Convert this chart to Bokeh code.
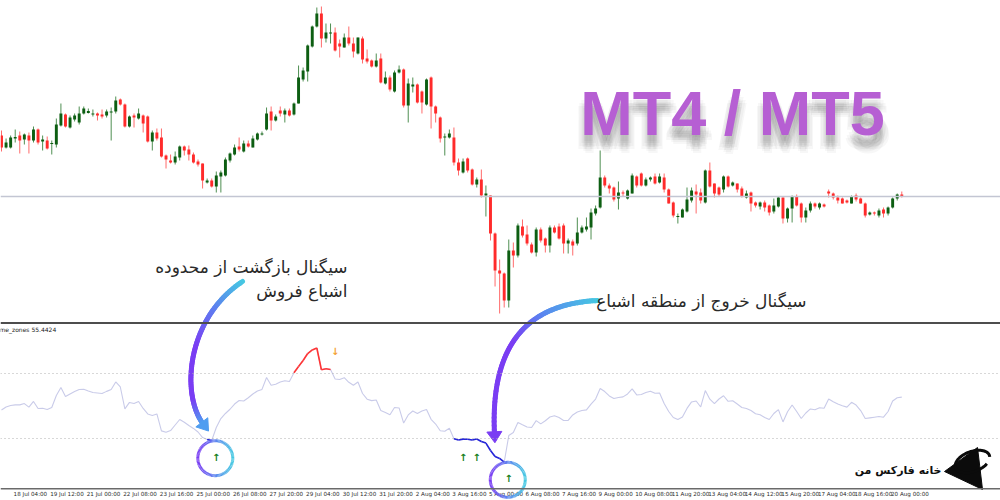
import numpy as np
from bokeh.plotting import figure
from bokeh.models import Range1d, ColumnDataSource, Span
from bokeh.core.properties import value
from bokeh.embed import file_html
from bokeh.resources import INLINE

# ------------------------------------------------------------------ data
TIME_LABELS = ["18 Jul 04:00", "19 Jul 12:00", "21 Jul 00:00", "22 Jul 08:00", "23 Jul 16:00",
               "25 Jul 00:00", "26 Jul 08:00", "27 Jul 20:00", "29 Jul 04:00", "30 Jul 12:00",
               "31 Jul 20:00", "2 Aug 04:00", "3 Aug 16:00", "5 Aug 00:00", "6 Aug 08:00",
               "7 Aug 16:00", "9 Aug 00:00", "10 Aug 08:00", "11 Aug 20:00", "13 Aug 04:00",
               "14 Aug 12:00", "15 Aug 20:00", "17 Aug 04:00", "18 Aug 16:00", "20 Aug 00:00"]
LABEL_BARS = [3, 11, 19, 27, 35, 43, 51, 59, 67, 75, 83, 91, 99, 107, 115, 123, 131, 139,
              147, 155, 163, 171, 179, 187, 195]

OPEN = [187, 175, 175, 184, 187, 183, 187, 182, 193, 181, 182, 178.5, 178, 197, 208, 195, 203, 200, 209, 209.5,
        208, 209, 208, 207, 210, 211, 223, 218, 196, 207, 204, 207, 206, 181, 190, 185, 167, 162, 160, 165,
        176, 173, 168, 161, 159, 140, 142, 136, 146, 147, 162, 168, 176, 171, 179, 175, 183, 188, 193, 211,
        202, 212, 208, 212, 208, 219, 243, 251, 276, 296, 309, 284, 289, 290, 279, 275, 285, 279, 269, 284,
        264, 262, 256, 264, 239, 245, 231, 250, 253, 217, 236, 238, 231, 218, 245, 216, 205, 185, 185, 185,
        160, 150, 164, 153, 138, 143, 127, 127, 89, 52, 49, 22, 72, 67, 96, 88, 78, 70, 93, 84,
        77, 95, 96, 97, 79, 81, 79, 90, 93, 95, 109, 115, 145, 137, 135, 124, 130, 124, 129, 146,
        149, 137, 143, 146, 140, 145, 133, 120, 105.5, 105, 111, 122, 131, 130, 120, 152, 139, 135, 133, 146,
        137, 139, 134, 125, 130, 120, 116, 120, 117, 111, 116, 125, 104, 114, 126, 119, 105, 112, 119, 115,
        118, 131, 129, 125, 124, 122, 119, 127, 124, 119, 108, 110, 107, 113, 109, 115, 124, 128]
HIGH = [192, 184, 187, 193, 191, 189, 190, 196, 194, 187, 186, 182, 204, 219, 209, 207, 209, 216, 216, 214,
        213, 210, 213, 213, 215, 226, 224, 219, 207, 209, 214, 208, 207, 192, 194, 194, 168, 168, 171, 177,
        177, 177, 170, 163, 159, 144, 144, 151, 152, 165, 170, 178, 185, 182, 182, 187, 190, 191, 215, 216,
        208, 216, 214, 214, 220, 257, 255, 278, 297, 315, 316, 299, 299, 295, 283, 289, 296, 285, 285, 286,
        273, 263, 269, 269, 251, 247, 252, 257, 254, 244, 245, 239, 232, 244, 246, 217, 206, 189, 193, 195,
        164, 164, 165, 154, 145, 153, 137, 127, 90, 63, 50, 83, 80, 99, 103, 97, 80, 95, 95, 85,
        97, 97, 99, 99, 84, 83, 105, 97, 105, 114, 117, 172, 147, 139, 136, 141, 132, 133, 149, 147,
        150, 145, 146, 149, 149, 149, 134, 121, 109, 114, 135, 135, 138, 134, 153, 160, 139, 136, 147, 147,
        141, 139, 136, 132, 131, 121, 121, 122, 118, 124, 126, 125, 115, 127, 128, 120, 115, 121, 120, 120,
        119, 133, 130, 127, 125, 123, 127, 129, 125, 120, 111, 111, 114, 115, 116, 125, 129, 131]
LOW = [171, 174, 174, 180, 169, 178, 169, 180, 178, 172, 173, 168, 175, 196, 195, 194, 201, 198, 208, 209,
       206, 202, 204, 205, 182, 209, 217, 195, 195, 195, 203, 190, 180, 172, 182, 165, 154, 159, 158, 162,
       167, 162, 159, 156, 134, 139, 135, 130, 130, 146, 160, 167, 171, 170, 175, 175, 182, 187, 192, 192,
       201, 206, 200, 206, 207, 219, 241, 241, 275, 295, 275, 280, 279, 271, 265, 275, 277, 265, 268, 259,
       259, 255, 255, 239, 238, 231, 230, 249, 215, 200, 230, 219, 209, 217, 194, 200, 180, 167, 184, 157,
       147, 149, 150, 137, 135, 125, 106, 82, 36, 9, 15, 15, 55, 65, 85, 77, 69, 66, 80, 70,
       70, 89, 83, 69, 69, 67, 77, 89, 91, 83, 107, 114, 135, 129, 121, 113, 126, 123, 129, 135,
       136, 136, 141, 138, 139, 130, 119, 105, 99, 105, 110, 120, 109, 119, 119, 135, 125, 126, 130, 135,
       136, 130, 125, 124, 111, 115, 113, 111, 107, 109, 115, 99, 100, 100, 116, 100, 100, 110, 114, 113,
       115, 125, 123, 119, 119, 119, 119, 121, 119, 105, 107, 107, 105, 105, 107, 114, 122, 125]
CLOSE = [175, 180, 185, 185.5, 182, 188, 182, 193, 180, 183, 174, 179.5, 198, 209, 196, 205, 207, 209, 214, 211.5,
         209, 207, 206, 211, 211, 222, 218, 196, 206, 205, 209, 199, 181, 190, 184, 166, 163, 160, 166, 176,
         172, 168, 160, 158, 142, 142, 136, 147, 150, 163, 169, 175, 173, 179, 176, 184, 189, 189, 209, 202,
         206, 209, 212, 207, 219, 245, 252, 277, 296, 309, 284, 290, 290, 272, 276, 285, 279, 271, 285, 263,
         261, 256, 262, 240, 245, 233, 250, 253, 217, 239, 238, 220, 220, 243, 216, 209, 184, 186, 189, 160,
         152, 161, 152, 138, 143, 127, 129, 89, 52, 49, 22, 72, 67, 97, 87, 79, 70, 93, 82, 77,
         95, 90, 84, 79, 82, 77, 90, 95, 96, 110, 114, 145, 137, 134, 123, 130, 129, 132, 147, 137,
         137, 143, 145, 139, 146, 133, 119, 107, 106.5, 113, 123, 132, 128, 122, 152, 136, 129, 128, 146, 136,
         140, 133, 126, 129, 119, 117, 120, 115, 110, 117, 125, 104, 114, 126, 117, 105, 112, 119, 116, 119,
         116, 129, 125, 122, 119, 120, 126, 123, 119, 107, 110, 109, 112, 109, 115, 124, 128, 126]

IND_NAME = "me_zones"
IND = [47.5, 49.4, 50.3, 50.7, 50.7, 51.5, 49.3, 52.8, 48.5, 48.6,
       47.8, 49.1, 56.5, 61.4, 55.8, 57.4, 58.9, 60.2, 60.3, 59.2,
       58.3, 58.0, 57.7, 59.0, 60.2, 64.8, 61.7, 48.2, 52.2, 51.5,
       52.8, 48.5, 45.1, 44.2, 45.1, 34.7, 33.8, 34.9, 38.3, 41.7,
       40.0, 38.0, 36.2, 34.0, 30.6, 29.4, 28.8, 36.8, 42.3, 45.4,
       48.0, 51.2, 53.4, 53.1, 55.1, 57.4, 59.2, 60.2, 67.5, 62.8,
       63.4, 64.8, 65.5, 65.1, 70.5, 74.3, 78.0, 82.3, 84.5, 85.7,
       72.3, 72.9, 72.5, 66.6, 66.3, 67.4, 64.6, 62.8, 64.8, 57.7,
       54.2, 53.3, 53.7, 47.2, 46.0, 44.6, 49.1, 48.8, 39.5, 44.5,
       46.9, 45.4, 46.9, 47.8, 41.8, 38.9, 34.8, 34.5, 36.3, 29.8,
       29.1, 29.6, 29.5, 29.1, 29.7, 28.2, 27.2, 22.6, 18.9, 17.7,
       15.4, 31.8, 33.7, 39.8, 38.4, 37.1, 36.8, 41.0, 39.0, 40.9,
       43.2, 44.0, 42.9, 41.1, 41.1, 44.5, 46.3, 47.2, 47.6, 51.2,
       54.3, 60.8, 58.9, 56.2, 54.6, 55.2, 55.6, 57.4, 60.5, 56.8,
       57.1, 58.3, 59.1, 57.8, 58.0, 51.5, 46.6, 42.9, 41.7, 43.2,
       48.5, 52.5, 53.1, 49.4, 59.5, 54.2, 51.5, 54.3, 56.3, 52.9,
       53.2, 51.2, 49.1, 48.5, 47.2, 45.2, 44.6, 42.9, 41.7, 45.4,
       47.8, 40.2, 46.5, 50.6, 46.6, 42.3, 45.7, 48.2, 47.7, 48.9,
       48.6, 54.3, 52.6, 51.2, 50.1, 49.3, 52.3, 50.6, 47.2, 42.3,
       42.7, 43.1, 43.5, 43.1, 46.6, 53.1, 55.1, 55.4424]
LEVEL_HIGH, LEVEL_LOW = 70, 30
PRICE_LEVEL = 126

BUY_BARS = [47, 101, 104, 111]
BUY_VALS = [18.5, 18.5, 18.5, 5.2]
SELL_BARS = [73]
SELL_VALS = [83.7]
CIRCLED = [0, 3]          # which buy signals are circled

TXT1 = ["سیگنال بازگشت از محدوده", "اشباع فروش"]
TXT2 = "سیگنال خروج از منطقه اشباع"
BRAND = "خانه فارکس من"
TITLE = "MT4 / MT5"

# ------------------------------------------------------------------ layout helpers
W, H = 1000, 500
X0, DX = 1.0, 4.57             # reference px of bar 0, px per bar
IND_Y0, IND_K = 486.75, 1.625  # indicator value -> reference px


def bx(x):
    return (np.asarray(x, dtype=float) - X0) / DX


def py(y):
    return 322.0 - np.asarray(y, dtype=float)


p = figure(width=W, height=H, x_range=Range1d(float(bx(0)), float(bx(1000))),
           y_range=Range1d(float(py(500)), float(py(0))),
           output_backend="svg", toolbar_location=None, min_border=0,
           x_axis_location=None, y_axis_location=None)
p.outline_line_color = None
p.grid.visible = False
p.background_fill_color = "white"
p.border_fill_color = "white"
p.extra_y_ranges = {"ind": Range1d((IND_Y0 - 500) / IND_K, IND_Y0 / IND_K)}

# ------------------------------------------------------------------ panels / lines
p.add_layout(Span(location=PRICE_LEVEL, dimension="width", line_color="#c3c6d3", line_width=1.3))
p.add_layout(Span(location=float(py(322.5)), dimension="width", line_color="#4d4d4d", line_width=2))
p.add_layout(Span(location=float(py(488.3)), dimension="width", line_color="#6a6a6a", line_width=1.5))
for lv in (LEVEL_HIGH, LEVEL_LOW):
    p.add_layout(Span(location=lv, dimension="width", y_range_name="ind",
                      line_color="#b0b0b0", line_width=1, line_dash="1 3"))

# ------------------------------------------------------------------ candles
o, h, l, c = (np.array(a, dtype=float) for a in (OPEN, HIGH, LOW, CLOSE))
idx = np.arange(len(o))
top = np.maximum(o, c)
bot = np.minimum(o, c)
small = (top - bot) < 1.0
mid = (top + bot) / 2
top = np.where(small, mid + 0.5, top)
bot = np.where(small, mid - 0.5, bot)
up = c >= o
for mask, body_col, wick_col in ((up, "#0d5e12", "#4f8f52"), (~up, "#ff2b2b", "#ff6b6b")):
    src = ColumnDataSource(dict(x=idx[mask], hi=h[mask], lo=l[mask], t=top[mask], b=bot[mask]))
    p.segment(x0="x", y0="hi", x1="x", y1="lo", line_color=wick_col, line_width=1, source=src)
    p.vbar(x="x", top="t", bottom="b", width=0.64, fill_color=body_col, line_color=None, source=src)

# ------------------------------------------------------------------ indicator
ind = np.array(IND)
p.line(idx, ind, line_color="#c9cbe9", line_width=1.1, y_range_name="ind")
seg_x, seg_y, seg_c = [], [], []
for i in range(len(ind) - 1):
    if ind[i] >= LEVEL_HIGH and ind[i + 1] >= LEVEL_HIGH:
        seg_x.append([i, i + 1]); seg_y.append([ind[i], ind[i + 1]]); seg_c.append("#ff3434")
    elif ind[i] <= LEVEL_LOW and ind[i + 1] <= LEVEL_LOW:
        seg_x.append([i, i + 1]); seg_y.append([ind[i], ind[i + 1]]); seg_c.append("#2424d8")
p.multi_line(xs="xs", ys="ys", line_color="c", line_width=1.6, y_range_name="ind",
             source=ColumnDataSource(dict(xs=seg_x, ys=seg_y, c=seg_c)))

p.text(x=BUY_BARS, y=BUY_VALS, text=["↑"] * len(BUY_BARS), y_range_name="ind",
       text_color="#16801b", text_font=value("DejaVu Sans"), text_font_style="bold",
       text_font_size="10px", text_align="center", text_baseline="middle")
p.text(x=SELL_BARS, y=SELL_VALS, text=["↓"] * len(SELL_BARS), y_range_name="ind",
       text_color="#f4a235", text_font=value("DejaVu Sans"), text_font_style="bold",
       text_font_size="10px", text_align="center", text_baseline="middle")

p.text(x=[float(bx(-1))], y=[float(py(328.5))],
       text=[f"{IND_NAME} {IND[-1]:.4f}"], text_color="#222222",
       text_font=value("DejaVu Sans"), text_font_size="6px", text_baseline="middle")

# time labels
p.text(x=np.array(LABEL_BARS) - 0.35, y=[float(py(493.5))] * len(LABEL_BARS), text=TIME_LABELS,
       text_color="#2a2a2a", text_font=value("DejaVu Sans"), text_font_size="5.6px",
       text_baseline="middle", text_align="left")

# ------------------------------------------------------------------ annotations


def rgb(hx):
    return np.array([int(hx[k:k + 2], 16) for k in (1, 3, 5)], dtype=float)


def grad(stops, t):
    for (t0, c0), (t1, c1) in zip(stops[:-1], stops[1:]):
        if t <= t1:
            f = 0 if t1 == t0 else (t - t0) / (t1 - t0)
            v = rgb(c0) * (1 - f) + rgb(c1) * f
            return "#%02x%02x%02x" % tuple(int(round(x)) for x in v)
    return stops[-1][1]


def bez(P, n=70):
    P = np.array(P, dtype=float)
    t = np.linspace(0, 1, n)[:, None]
    return ((1 - t) ** 3) * P[0] + 3 * ((1 - t) ** 2) * t * P[1] + 3 * (1 - t) * t * t * P[2] + t ** 3 * P[3]


def grad_path(pts, stops, width):
    xs, ys, cs = [], [], []
    n = len(pts)
    for k in range(n - 1):
        xs.append(list(bx([pts[k][0], pts[k + 1][0]])))
        ys.append(list(py([pts[k][1], pts[k + 1][1]])))
        cs.append(grad(stops, k / (n - 2)))
    p.multi_line(xs="xs", ys="ys", line_color="c", line_width=width, line_cap="round",
                 source=ColumnDataSource(dict(xs=xs, ys=ys, c=cs)))


def arrow(P, stops, width, head_col, head_len=11, head_w=7.5):
    pts = bez(P)
    grad_path(pts, stops, width)
    end = pts[-1]
    d = np.array(P[3], float) - np.array(P[2], float)
    d /= np.linalg.norm(d)
    q = np.array([-d[1], d[0]])
    tip = end + d * head_len * 0.75
    base = end - d * head_len * 0.25
    tri = [tip, base + q * head_w, base - q * head_w]
    p.patch(bx([t[0] for t in tri]), py([t[1] for t in tri]), fill_color=head_col, line_color=head_col)


CYAN, PURPLE, BLUE = "#46c8e2", "#7a3df3", "#4f9df0"
arrow([(242, 281), (186, 318), (180, 394), (203, 424)],
      [(0, CYAN), (0.22, "#5f7cf0"), (0.45, PURPLE), (0.8, PURPLE), (1, BLUE)], 5, BLUE)
arrow([(597, 300), (538, 303), (489, 332), (494, 434)],
      [(0, CYAN), (0.35, "#5a86ef"), (0.6, PURPLE), (1, PURPLE)], 5, PURPLE)

# circles around the highlighted buy signals
theta = np.linspace(0, 2 * np.pi, 91)
for j in CIRCLED:
    cx = X0 + DX * BUY_BARS[j] - 1.0
    cy = IND_Y0 - IND_K * BUY_VALS[j] + 1.0
    pts = np.column_stack([cx + 17.5 * np.cos(theta), cy + 17.5 * np.sin(theta)])
    xs, ys, cs = [], [], []
    for k in range(len(pts) - 1):
        xs.append(list(bx(pts[k:k + 2, 0])))
        ys.append(list(py(pts[k:k + 2, 1])))
        cs.append(grad([(0, PURPLE), (0.55, "#5a8cef"), (1, CYAN)], (1 + np.cos(theta[k])) / 2))
    p.multi_line(xs="xs", ys="ys", line_color="c", line_width=3,
                 source=ColumnDataSource(dict(xs=xs, ys=ys, c=cs)))

# Persian captions
p.text(x=[float(bx(347))] * 2, y=[float(py(266)), float(py(290))], text=TXT1,
       text_color="#2a2a2a", text_font=value("DejaVu Sans"), text_font_size="17px",
       text_align="right", text_baseline="middle")
p.text(x=[float(bx(806))], y=[float(py(300))], text=[TXT2],
       text_color="#2a2a2a", text_font=value("DejaVu Sans"), text_font_size="17px",
       text_align="right", text_baseline="middle")

# MT4 / MT5 title with a soft shadow
for dx_, dy_ in [(0, 6), (-3, 8), (3, 8), (0, 10), (-2, 12), (2, 12), (0, 14), (-5, 11), (5, 11),
                 (-1, 16), (1, 18), (-6, 14), (6, 14)]:
    p.text(x=[float(bx(732 + dx_))], y=[float(py(112 + dy_))], text=[TITLE], text_color="#4a4a4a",
           text_alpha=0.045, text_font=value("Liberation Sans"), text_font_style="bold",
           text_font_size="63px", text_align="center", text_baseline="alphabetic")
p.text(x=[float(bx(732))], y=[float(py(112))], text=[TITLE], text_color="#b65fd3",
       text_font=value("Liberation Sans"), text_font_style="bold",
       text_font_size="63px", text_align="center", text_baseline="alphabetic")

# brand logo
p.text(x=[float(bx(941))], y=[float(py(470))], text=[BRAND], text_color="#111111",
       text_font=value("DejaVu Sans"), text_font_style="bold", text_font_size="11px",
       text_align="right", text_baseline="middle")
tri = [(944, 471), (977, 447), (982, 489)]
p.patch(bx([t[0] for t in tri]), py([t[1] for t in tri]), fill_color="#0b0b0b", line_color="#0b0b0b")
ang = np.linspace(0.25 * np.pi, 2.05 * np.pi, 60)
rot = -0.35
ex = 18 * np.cos(ang)
ey = 10 * np.sin(ang)
rx = 972 + ex * np.cos(rot) - ey * np.sin(rot)
ry = 461 + ex * np.sin(rot) + ey * np.cos(rot)
p.line(bx(rx), py(ry), line_color="#0b0b0b", line_width=3)

open("out.html", "w").write(file_html(p, INLINE))
